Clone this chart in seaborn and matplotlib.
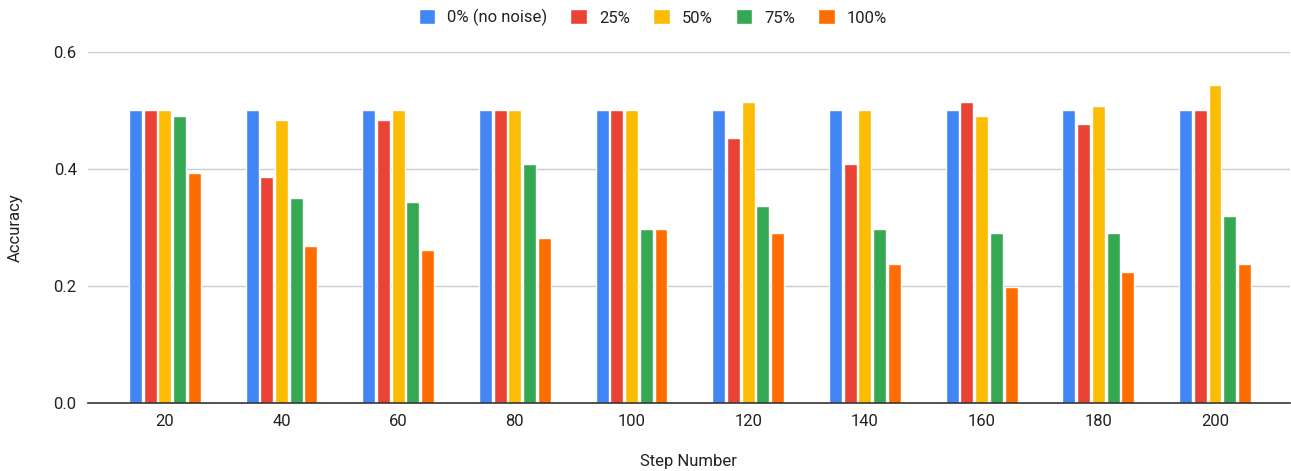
import matplotlib
matplotlib.use("Agg")
import matplotlib.pyplot as plt
import pandas as pd
import seaborn as sns

steps = [20, 40, 60, 80, 100, 120, 140, 160, 180, 200]
noise_levels = ["0% (no noise)", "25%", "50%", "75%", "100%"]
acc_0 = [0.5, 0.5, 0.5, 0.5, 0.5, 0.5, 0.5, 0.5, 0.5, 0.5]
acc_25 = [0.5, 0.387, 0.483, 0.5, 0.5, 0.453, 0.408, 0.514, 0.477, 0.5]
acc_50 = [0.5, 0.483, 0.5, 0.5, 0.5, 0.514, 0.5, 0.490, 0.507, 0.544]
acc_75 = [0.491, 0.350, 0.343, 0.408, 0.298, 0.336, 0.298, 0.291, 0.291, 0.319]
acc_100 = [0.394, 0.268, 0.261, 0.282, 0.298, 0.291, 0.237, 0.199, 0.224, 0.237]
colors = ["#4285F4", "#EA4335", "#FBBC04", "#34A853", "#FF6D01"]

rows = []
for level, vals in zip(noise_levels, [acc_0, acc_25, acc_50, acc_75, acc_100]):
    for s, v in zip(steps, vals):
        rows.append({"Step Number": str(s), "Noise": level, "Accuracy": v})
df = pd.DataFrame(rows)

sns.set_style("white")
plt.rcParams["font.family"] = ["Roboto", "DejaVu Sans"]

fig = plt.figure(figsize=(12.91, 4.71), dpi=100)
ax = fig.add_axes([0.068, 0.1444, 0.931, 0.7452])
sns.barplot(data=df, x="Step Number", y="Accuracy", hue="Noise", hue_order=noise_levels,
            palette=colors, saturation=1, width=0.63, gap=0.12, ax=ax, legend=True)

ax.set_ylim(0, 0.6)
ax.set_xlim(-0.66, 9.64)
ax.set_yticks([0, 0.2, 0.4, 0.6])
ax.set_yticklabels(["0.0", "0.2", "0.4", "0.6"])
ax.yaxis.grid(True, color="#cccccc", linewidth=1)
ax.set_axisbelow(True)
for side in ["left", "right", "top"]:
    ax.spines[side].set_visible(False)
ax.spines["bottom"].set_color("#333333")
ax.spines["bottom"].set_linewidth(1.2)
ax.tick_params(axis="both", length=0, labelsize=12, colors="#222222", pad=8)
ax.set_xlabel("Step Number", fontsize=12, color="#222222", labelpad=18)
ax.set_ylabel("Accuracy", fontsize=12, color="#222222", labelpad=22)

handles, labels = ax.get_legend_handles_labels()
ax.legend(handles, labels, loc="upper center", bbox_to_anchor=(0.47, 1.165), ncol=5, frameon=False,
          fontsize=12, handlelength=1.0, handleheight=1.0, handletextpad=0.7, columnspacing=1.4,
          labelcolor="#222222")

fig.savefig("out.png", dpi=100)
